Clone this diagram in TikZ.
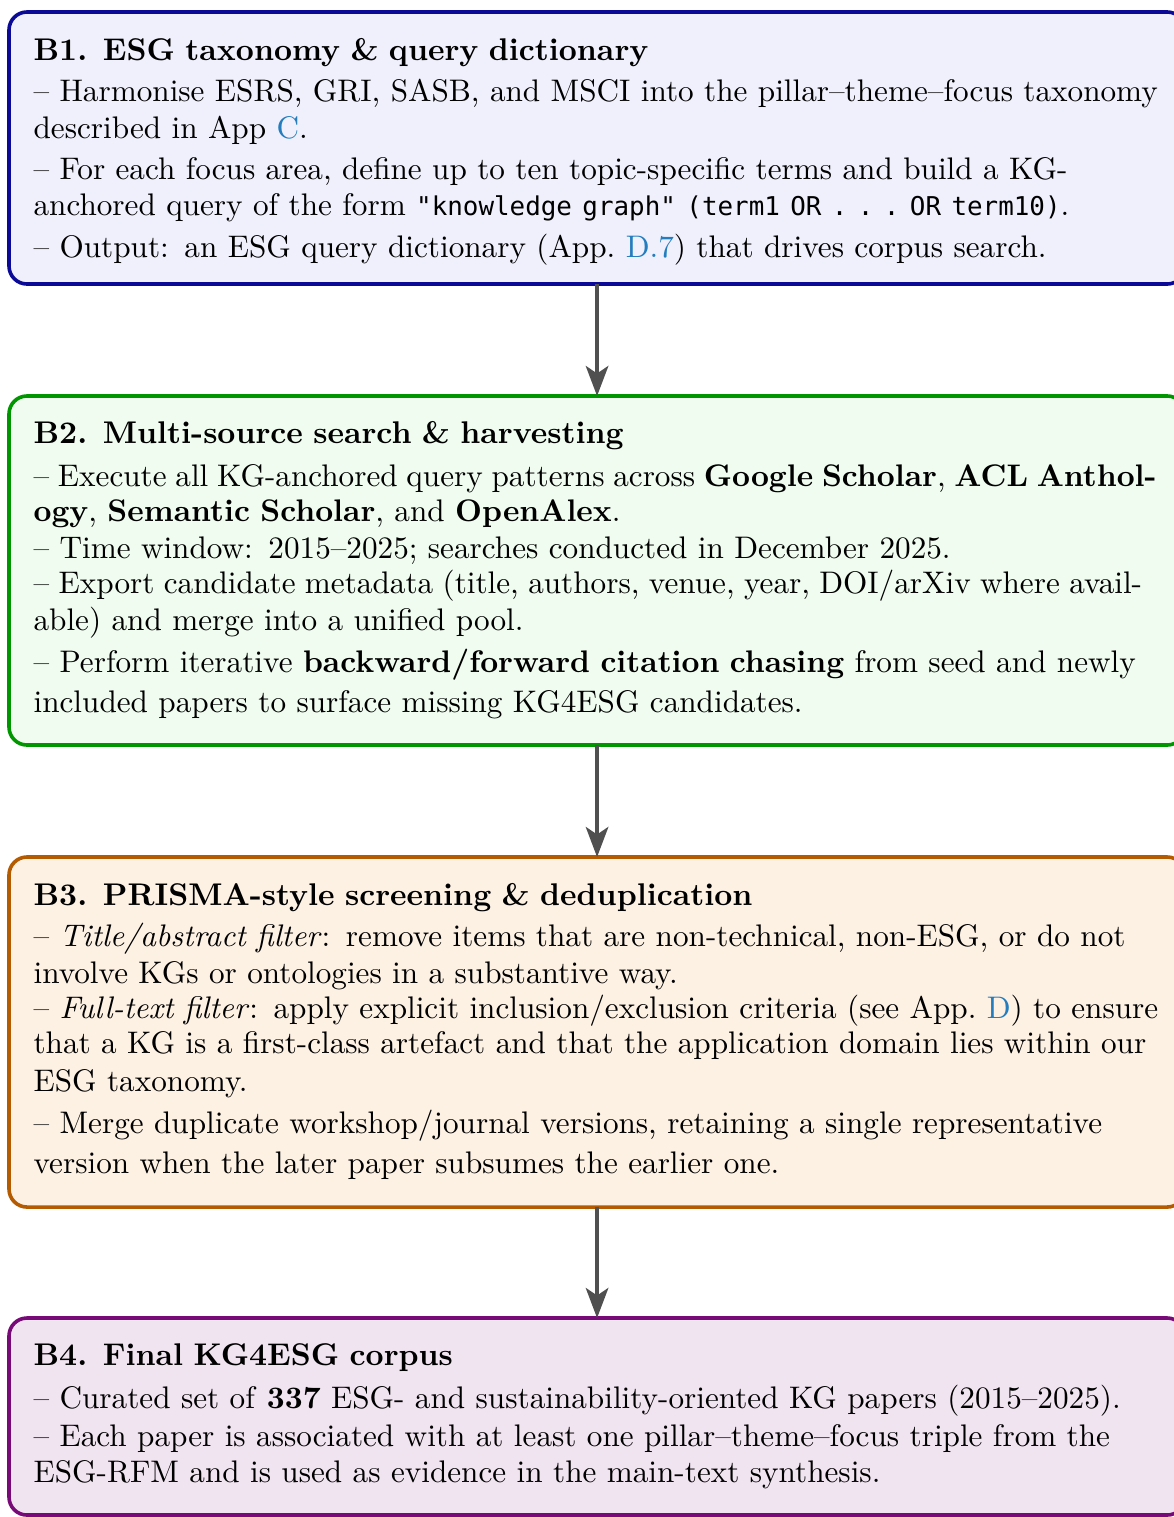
\documentclass[tikz,border=0pt]{standalone}
\usepackage{fontspec}
\setmonofont{DejaVu Sans Mono}[Scale=0.83]
\usetikzlibrary{arrows.meta,positioning}

\definecolor{linkblue}{RGB}{35,125,190}
\definecolor{flowgray}{RGB}{80,80,80}
\definecolor{bonefill}{RGB}{240,240,252}
\definecolor{boneline}{RGB}{10,10,150}
\definecolor{btwofill}{RGB}{240,252,240}
\definecolor{btwoline}{RGB}{0,150,0}
\definecolor{bthreefill}{RGB}{253,241,228}
\definecolor{bthreeline}{RGB}{180,90,0}
\definecolor{bfourfill}{RGB}{241,228,241}
\definecolor{bfourline}{RGB}{120,10,120}

\newcommand{\applink}[1]{\textcolor{linkblue}{#1}}
\newcommand{\stagehead}[1]{{\fontsize{10.45}{13}\selectfont\bfseries #1}}

\tikzset{
    stage/.style={draw, rounded corners=6pt, line width=1.2pt, anchor=north west,
        minimum width=392pt, inner sep=0pt, outer sep=0pt},
    stagetext/.style={anchor=base west, text width=385pt, align=left, inner sep=0pt,
        font=\fontsize{10.4}{12.17}\selectfont},
    flow/.style={draw=flowgray, line width=1.3pt, -{Stealth[length=10pt,width=7.5pt,inset=2.5pt]}},
}

\begin{document}
\begin{tikzpicture}[x=0.3333pt, y=-0.3333pt]
    \useasboundingbox (0,0) rectangle (1173,1517);

    % B1 - taxonomy and query dictionary
    \node[stage, draw=boneline, fill=bonefill, minimum height=90.67pt] (b1) at (9,12) {};
    \node[stagetext] (b1text) at (33,60.7) {%
        \stagehead{B1.\enspace ESG taxonomy \& query dictionary}\\[1.5pt]
        -- Harmonise ESRS, GRI, SASB, and MSCI into the pillar--theme--focus taxonomy\\
        described in App \applink{C}.\\[1.5pt]
        -- For each focus area, define up to ten topic-specific terms and build a KG-\\
        anchored query of the form \texttt{"knowledge graph"} \texttt{(term1 OR .\ .\ .\ OR term10)}.\\[1.6pt]
        -- Output: an ESG query dictionary (App.~\applink{D.7}) that drives corpus search.};

    % B2 - search and harvesting
    \node[stage, draw=btwoline, fill=btwofill, minimum height=116.33pt] (b2) at (9,396) {};
    \node[stagetext] (b2text) at (33,443.3) {%
        \stagehead{B2.\enspace Multi-source search \& harvesting}\\[2.2pt]
        {\spaceskip=0.28em plus 0.1em -- Execute all KG-anchored query patterns across \textbf{Google Scholar}, \textbf{ACL Anthol-}}\\[-0.4pt]
        \textbf{ogy}, \textbf{Semantic Scholar}, and \textbf{OpenAlex}.\\
        -- Time window: 2015--2025; searches conducted in December 2025.\\[-0.4pt]
        {\spaceskip=0.3em plus 0.1em -- Export candidate metadata (title, authors, venue, year, DOI/arXiv where avail-}\\
        able) and merge into a unified pool.\\[2pt]
        -- Perform iterative \textbf{backward/forward citation chasing} from seed and newly\\[1.1pt]
        included papers to surface missing KG4ESG candidates.};

    % B3 - screening and deduplication
    \node[stage, draw=bthreeline, fill=bthreefill, minimum height=116.67pt] (b3) at (9,857) {};
    \node[stagetext] (b3text) at (33,905) {%
        \stagehead{B3.\enspace PRISMA-style screening \& deduplication}\\[1.7pt]
        -- \textit{Title/abstract filter}: remove items that are non-technical, non-ESG, or do not\\
        involve KGs or ontologies in a substantive way.\\[-0.4pt]
        -- \textit{Full-text filter}: apply explicit inclusion/exclusion criteria (see App.~\applink{D}) to ensure\\[-0.4pt]
        that a KG is a first-class artefact and that the application domain lies within our\\[0.3pt]
        ESG taxonomy.\\[1.8pt]
        -- Merge duplicate workshop/journal versions, retaining a single representative\\[1.3pt]
        version when the later paper subsumes the earlier one.};

    % B4 - final corpus
    \node[stage, draw=bfourline, fill=bfourfill, minimum height=65.67pt] (b4) at (9,1318) {};
    \node[stagetext] (b4text) at (33,1365) {%
        \stagehead{B4.\enspace Final KG4ESG corpus}\\[2.2pt]
        -- Curated set of \textbf{337} ESG- and sustainability-oriented KG papers (2015--2025).\\[0.6pt]
        -- Each paper is associated with at least one pillar--theme--focus triple from the\\
        ESG-RFM and is used as evidence in the main-text synthesis.};

    % arrows between stages
    \draw[flow] (b1) -- (b2);
    \draw[flow] (b2) -- (b3);
    \draw[flow] (b3) -- (b4);
\end{tikzpicture}
\end{document}
